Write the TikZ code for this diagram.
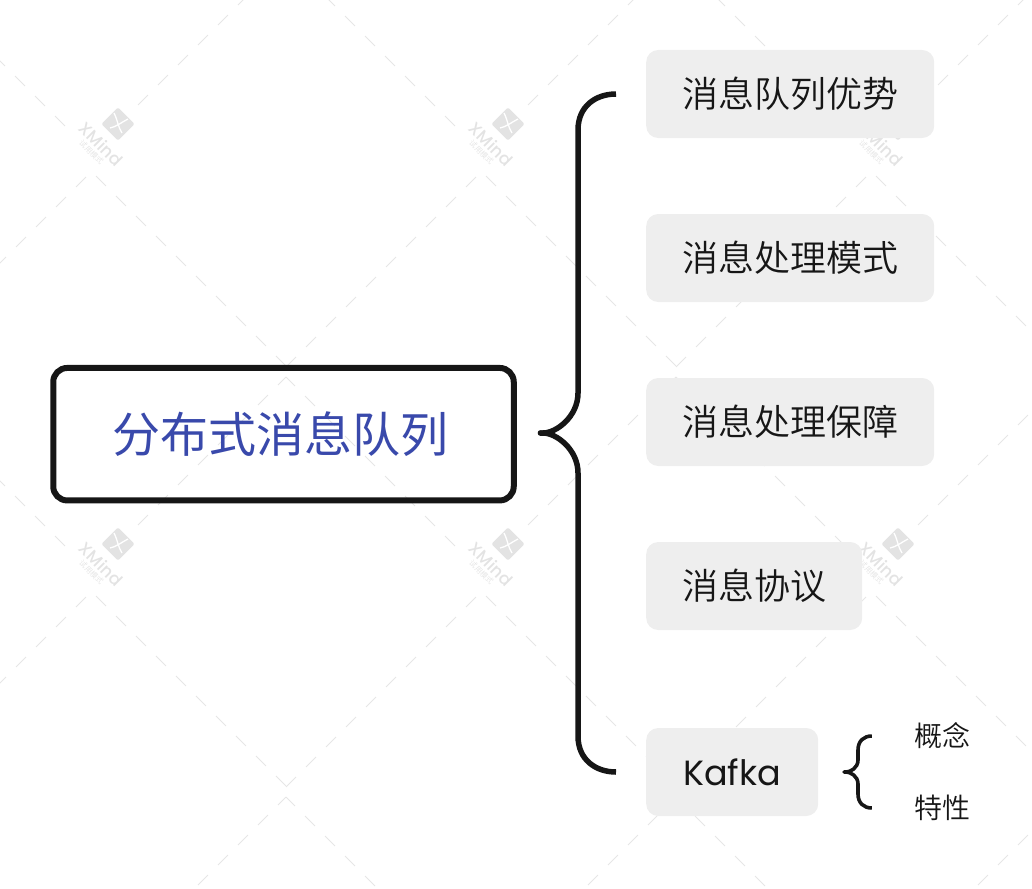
\documentclass[tikz,border=0pt]{standalone}
\usepackage{fontspec}
\setmainfont{Poppins}
\newfontfamily\cjk{Noto Sans CJK SC DemiLight}
\newfontfamily\cjkroot{Noto Sans CJK SC}
\newfontfamily\wmfont{Poppins Medium}
\usetikzlibrary{arrows.meta}
\definecolor{inkblack}{HTML}{161616}
\definecolor{rootblue}{HTML}{3949AB}
\definecolor{boxgrey}{HTML}{EEEEEE}
\definecolor{wmline}{HTML}{E6E6E6}
\definecolor{wmlogo}{HTML}{E3E3E3}
\tikzset{
	rootbox/.style={draw=inkblack,line width=6pt,rounded corners=14pt,minimum width=460.5pt,minimum height=132.5pt,inner sep=0pt,text=rootblue,font=\cjkroot\fontsize{48}{48}\selectfont},
	topicbox/.style={anchor=west,fill=boxgrey,rounded corners=12pt,minimum height=88pt,inner sep=0pt,text=inkblack,font=\cjk\fontsize{36}{36}\selectfont},
	leaflabel/.style={inner sep=0pt,text=inkblack,font=\cjk\fontsize{28}{28}\selectfont},
	bigbrace/.style={draw=inkblack,line width=5.5pt,{Round Cap[]}-},
	smallbrace/.style={draw=inkblack,line width=3.6pt,{Round Cap[]}-},
	wmdash/.style={draw=wmline,line width=1pt,dash pattern=on 14.14pt off 14.14pt},
	wmsquare/.style={fill=wmlogo,rotate=45,minimum size=23.5pt,inner sep=0pt,rounded corners=2pt},
	wmtext/.style={rotate=-45,inner sep=0pt,text=wmlogo},
}
\begin{document}
\begin{tikzpicture}[x=1pt,y=-1pt]
	\useasboundingbox (0,0) rectangle (1032,888);
	% watermark lattice
	\begin{scope}
		\clip (0,0) rectangle (1032,888);
		\foreach \i in {-1,0,1,2} {
			\foreach \j in {0,1,2} {
				\begin{scope}[shift={(390*\i,420*\j)}]
					\draw[wmdash] (65,126) -- (-104,-43);
					\draw[wmdash] (138,105) -- (286,-43);
					\draw[wmdash] (96,176) -- (286,366);
					\draw[wmdash] (86,177) -- (-104,367);
				\end{scope}
			}
		}
	\end{scope}
	% watermark logos
	\foreach \i in {0,1,2} {
		\foreach \j in {0,1} {
			\begin{scope}[shift={(390*\i,420*\j)}]
				\node[wmsquare] (logo\i\j) at (118,124) {};
				\draw[white,line width=1.3pt] (114,113) .. controls (118,121) and (118,127) .. (122,133);
				\draw[white,line width=1.3pt] (110,128) .. controls (116,127) and (122,122) .. (128,119);
				\node[wmtext,font=\wmfont\fontsize{17}{17}\selectfont] (mark\i\j) at (101,144) {XMind};
				\node[wmtext,font=\cjk\fontsize{7.6}{8}\selectfont] (trial\i\j) at (91.5,152.5) {试用模式};
			\end{scope}
		}
	}
	% topics
	\node[rootbox] (queue) at (283.5,434.2) {\raisebox{3pt}{\hspace*{-6pt}分布式消息队列}};
	\node[topicbox,minimum width=288pt] (merit) at (646,94) {消息队列优势};
	\node[topicbox,minimum width=288pt] (mode) at (646,258) {消息处理模式};
	\node[topicbox,minimum width=288pt] (assure) at (646,422) {消息处理保障};
	\node[topicbox,minimum width=216pt] (proto) at (646,586) {消息协议};
	\node[topicbox,minimum width=172pt,font=\fontsize{35}{35}\selectfont] (kafka) at (646,772) {Kafka};
	\node[leaflabel] (concept) at (942,736) {概念};
	\node[leaflabel] (trait) at (942,808) {特性};
	% braces
	\coordinate (tipa) at ([yshift=1.2pt,xshift=21pt]queue.east);
	\coordinate (topa) at ([xshift=-30pt]merit.west);
	\coordinate (lowa) at ([xshift=-30pt]kafka.west);
	\coordinate (tipb) at ([xshift=24pt]kafka.east);
	\coordinate (topb) at ([xshift=-42pt]concept.west);
	\coordinate (lowb) at ([xshift=-42pt]trait.west);
	\draw[bigbrace] (tipa) .. controls +(18,0) and +(0,24) .. (578,393) -- (578,130) .. controls +(0,-24) and +(-20,0) .. (topa);
	\draw[bigbrace] (tipa) .. controls +(18,0) and +(0,-24) .. (578,473) -- (578,736) .. controls +(0,24) and +(-20,0) .. (lowa);
	\draw[smallbrace] (tipb) .. controls +(8,0) and +(0,8) .. (858,760) -- (858,750) .. controls +(0,-9) and +(-8,0) .. (topb);
	\draw[smallbrace] (tipb) .. controls +(8,0) and +(0,-8) .. (858,784) -- (858,794) .. controls +(0,9) and +(-8,0) .. (lowb);
\end{tikzpicture}
\end{document}
